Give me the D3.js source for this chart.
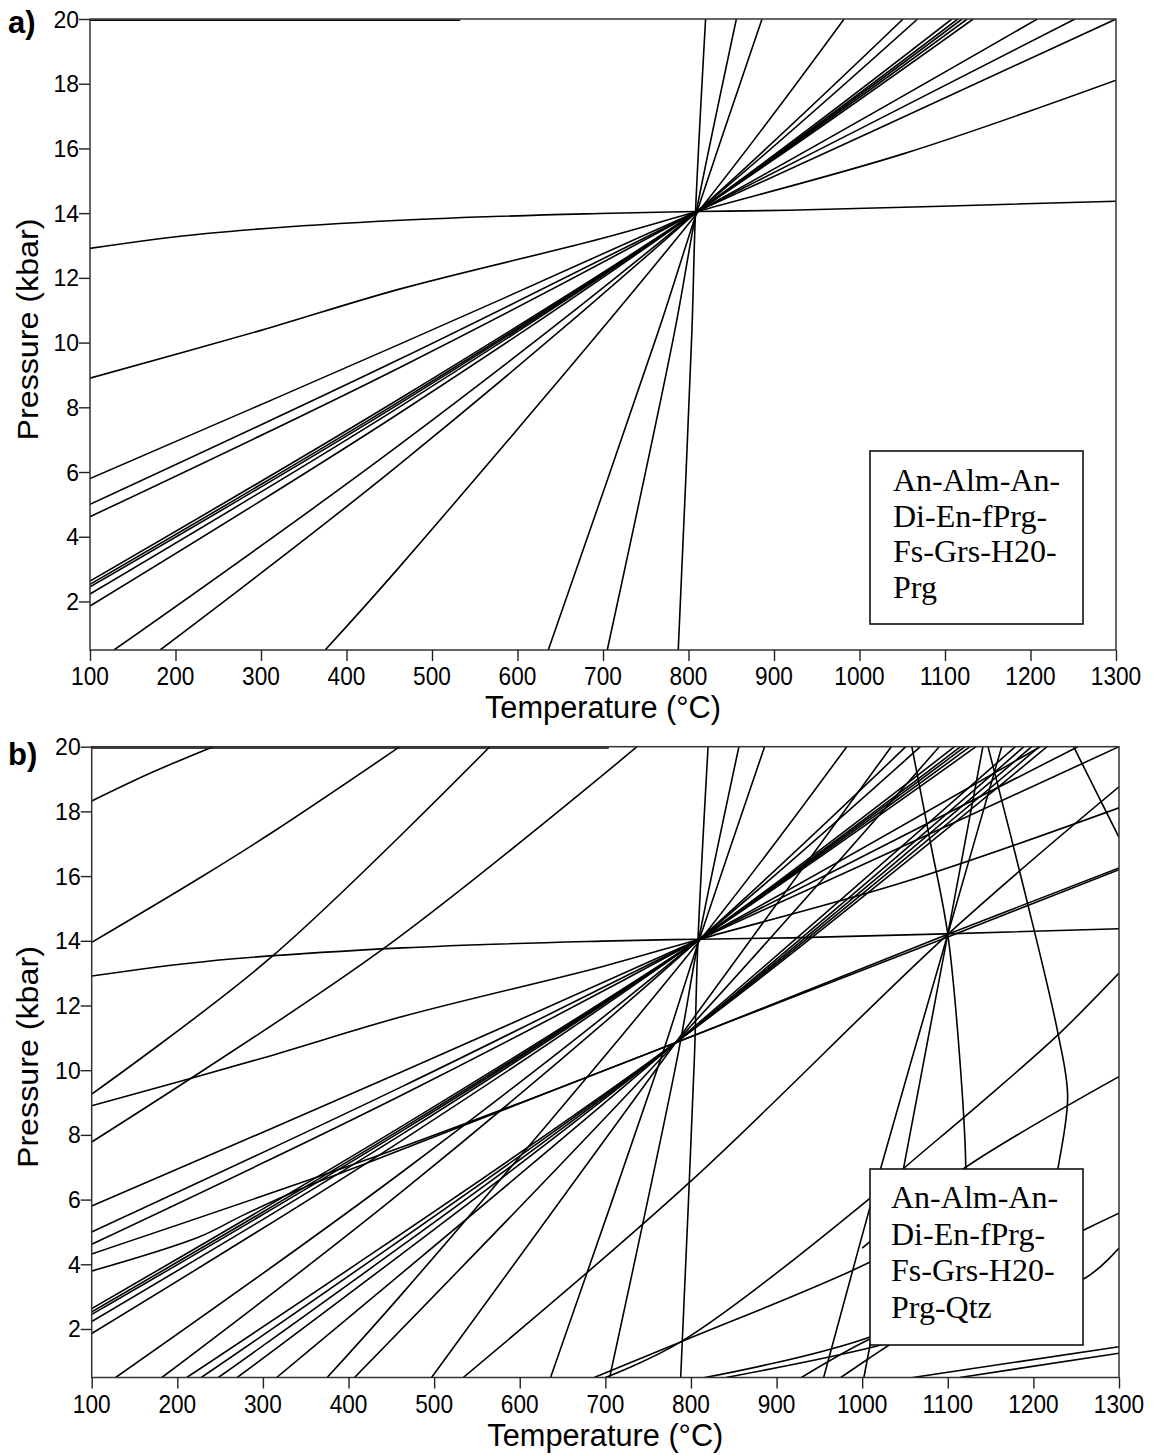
<!DOCTYPE html>
<html>
<head>
<meta charset="utf-8">
<script src="https://cdn.jsdelivr.net/npm/d3@7"></script>
<style>
  body { margin: 0; background: #fff; }
</style>
</head>
<body>
<div id="chart"></div>
<script>
// axis ticks
const tempTicks = d3.range(100, 1301, 100);
const tempMinor = d3.range(100, 1301, 20);
const presTicks = d3.range(2, 21, 2);
const presMinor = d3.range(2, 51).map(i => +(i * 0.4).toFixed(1));

// reaction curves, [T (°C), P (kbar)], system without quartz (panel a, also in b)
const reactionsA = [
  [[100,12.91],[236,13.37],[463,13.78],[696,13.99],[810,14.05],[917,14.09],[1300,14.37]],
  [[100,8.9],[299,10.37],[463,11.66],[696,13.2],[810,14.05],[1052,15.84],[1300,18.11]],
  [[100,5.8],[463,9.96],[810,14.05],[1300,20]],
  [[100,5.0],[463,9.5],[810,14.05],[1252,20]],
  [[100,4.62],[463,9.24],[810,14.05],[1208,20]],
  [[100,2.63],[463,8.28],[810,14.05],[1133,20]],
  [[100,2.53],[463,8.2],[810,14.05],[1126,20]],
  [[100,2.45],[463,8.13],[810,14.05],[1120,20]],
  [[100,2.23],[463,8.03],[810,14.05],[1115,20]],
  [[100,1.86],[463,7.84],[810,14.05],[1108,20]],
  [[128,0.5],[463,6.86],[810,14.05],[1068,20]],
  [[182,0.5],[463,6.26],[810,14.05],[1051,20]],
  [[375,0.5],[463,3.1],[810,14.0],[982,20]],
  [[636,0.5],[765,10.37],[808,13.9],[886,20]],
  [[705,0.5],[784,10.37],[808,13.9],[856,20]],
  [[788,0.5],[804,10.37],[808,13.9],[820,20]]
];
const topA = [[100,19.96],[533,19.96]];

// extra reaction curves once quartz is added (panel b)
const reactionsQtz = [
  [[100,19.96],[704,19.96]],
  [[100,18.32],[170,19.2],[242,20]],
  [[100,13.95],[226,15.94],[312,17.37],[460,20]],
  [[100,9.26],[310,13.5],[565,20]],
  [[100,7.78],[440,13.74],[737,20]],
  [[100,4.32],[460,7.6],[782,10.85],[1100,14.2],[1300,16.25]],
  [[100,3.79],[226,4.85],[277,5.52],[355,6.45],[421,7.12],[782,10.85],[1100,14.12],[1300,16.2]],
  [[211,0.5],[782,10.85],[1216,20]],
  [[228,0.5],[782,10.85],[1207,20]],
  [[248,0.5],[782,10.85],[1198,20]],
  [[270,0.5],[782,10.85],[1189,20]],
  [[316,0.5],[782,10.85],[1179,20]],
  [[407,0.5],[782,10.85],[1090,20]],
  [[497,0.5],[782,10.85],[1034,20]],
  [[534,0.5],[797,6.5],[1100,14.2],[1300,18.76]],
  [[1002,0.5],[1100,14.2],[1141,20]],
  [[955,0.5],[1022,7.0],[1100,14.2],[1163,20]],
  [[1058,20],[1080,17],[1100,14.2],[1115,10],[1121,7.0],[1118,4]],
  [[1147,20],[1190,15.5],[1229,11.1],[1240,9.2],[1229,7.0],[1215,5]],
  [[1247,20],[1300,17.2]],
  [[700,0.5],[788,1.6],[1009,6.04],[1050,7.0],[1139,9.0],[1229,11.1],[1300,13.0]],
  [[687,0.5],[788,1.6],[1014,4.13],[1100,5.5]],
  [[1000,4.5],[1121,7.0],[1300,9.8]],
  [[816,0.5],[1014,1.8],[1262,5.1],[1300,5.58]],
  [[841,0.5],[1014,1.45],[1150,2.5],[1262,3.6],[1300,4.5]],
  [[929,0.5],[1014,1.75],[1100,2.6]],
  [[975,0.5],[1014,1.2],[1060,2.0]],
  [[1059,0.5],[1300,1.45]],
  [[1114,0.5],[1300,1.25]]
];

const legendA = ["An-Alm-An-", "Di-En-fPrg-", "Fs-Grs-H20-", "Prg"];
const legendB = ["An-Alm-An-", "Di-En-fPrg-", "Fs-Grs-H20-", "Prg-Qtz"];

const panels = [
  { label: "a)", x0: 90, x1: 1116, y0: 19, y1: 650, lines: reactionsA.concat([topA]), legend: legendA,
    box: [870, 451, 1083, 624], textX: 893, textY: 491, lh: 35.5, labelY: 33 },
  { label: "b)", x0: 91.7, x1: 1119, y0: 746.7, y1: 1377.5, lines: reactionsA.concat(reactionsQtz), legend: legendB,
    box: [870, 1169, 1083, 1345], textX: 891, textY: 1208, lh: 36.7, labelY: 765 }
];

const svg = d3.select("#chart").append("svg")
  .attr("width", 1154).attr("height", 1455)
  .style("font-family", "'Liberation Sans', Arial, sans-serif");

panels.forEach((p, i) => {
  const x = d3.scaleLinear().domain([100, 1300]).range([p.x0, p.x1]);
  const y = d3.scaleLinear().domain([0.5, 20]).range([p.y1, p.y0]);
  const g = svg.append("g");

  g.append("clipPath").attr("id", "clip" + i)
    .append("rect").attr("x", p.x0).attr("y", p.y0)
    .attr("width", p.x1 - p.x0).attr("height", p.y1 - p.y0);

  const line = d3.line()
    .x(d => x(d[0])).y(d => y(d[1]))
    .curve(d3.curveCatmullRom.alpha(0.5));

  g.append("g").attr("clip-path", `url(#clip${i})`)
    .selectAll("path").data(p.lines).join("path")
    .attr("d", line)
    .attr("fill", "none").attr("stroke", "#000").attr("stroke-width", 1.6);

  // frame
  g.append("rect").attr("x", p.x0).attr("y", p.y0)
    .attr("width", p.x1 - p.x0).attr("height", p.y1 - p.y0)
    .attr("fill", "none").attr("stroke", "#333").attr("stroke-width", 1.5);

  // x axis
  const xa = g.append("g").attr("transform", `translate(0,${p.y1})`);
  xa.call(d3.axisBottom(x).tickValues(tempMinor).tickSize(6).tickFormat(""));
  xa.call(d3.axisBottom(x).tickValues(tempTicks).tickSize(11).tickFormat(""));
  xa.selectAll(".domain").remove();
  xa.selectAll("line").attr("stroke", "#222").attr("stroke-width", 1.4);
  g.selectAll(".xl").data(tempTicks).join("text")
    .attr("x", d => x(d)).attr("y", p.y1 + 35)
    .attr("text-anchor", "middle").attr("font-size", 26)
    .attr("textLength", d => String(d).length * 12.6).attr("lengthAdjust", "spacingAndGlyphs")
    .text(d => d);
  g.append("text").attr("x", (p.x0 + p.x1) / 2).attr("y", p.y1 + 68)
    .attr("text-anchor", "middle").attr("font-size", 31)
    .attr("textLength", 236).attr("lengthAdjust", "spacingAndGlyphs")
    .text("Temperature (°C)");

  // y axis
  const ya = g.append("g").attr("transform", `translate(${p.x0},0)`);
  ya.call(d3.axisLeft(y).tickValues(presMinor).tickSize(6).tickFormat(""));
  ya.call(d3.axisLeft(y).tickValues(presTicks).tickSize(11).tickFormat(""));
  ya.selectAll(".domain").remove();
  ya.selectAll("line").attr("stroke", "#222").attr("stroke-width", 1.4);
  g.selectAll(".yl").data(presTicks).join("text")
    .attr("x", p.x0 - 11).attr("y", d => y(d) + 8.5)
    .attr("text-anchor", "end").attr("font-size", 24)
    .attr("textLength", d => String(d).length * 12.8).attr("lengthAdjust", "spacingAndGlyphs")
    .text(d => d);
  const yc = (p.y0 + p.y1) / 2 - 5;
  g.append("text").attr("transform", `translate(38,${yc}) rotate(-90)`)
    .attr("text-anchor", "middle").attr("font-size", 30)
    .attr("textLength", 222).attr("lengthAdjust", "spacingAndGlyphs")
    .text("Pressure (kbar)");

  // panel label
  g.append("text").attr("x", 8).attr("y", p.labelY)
    .attr("font-size", 31).attr("font-weight", "bold").text(p.label);

  // legend box
  const [bx0, by0, bx1, by1] = p.box;
  g.append("rect").attr("x", bx0).attr("y", by0)
    .attr("width", bx1 - bx0).attr("height", by1 - by0)
    .attr("fill", "#fff").attr("stroke", "#111").attr("stroke-width", 1.6);
  g.append("g").selectAll("text").data(p.legend).join("text")
    .attr("x", p.textX).attr("y", (d, k) => p.textY + k * p.lh)
    .attr("font-family", "'Liberation Serif', 'Times New Roman', serif")
    .attr("font-size", 32).text(d => d);
});
</script>
</body>
</html>
